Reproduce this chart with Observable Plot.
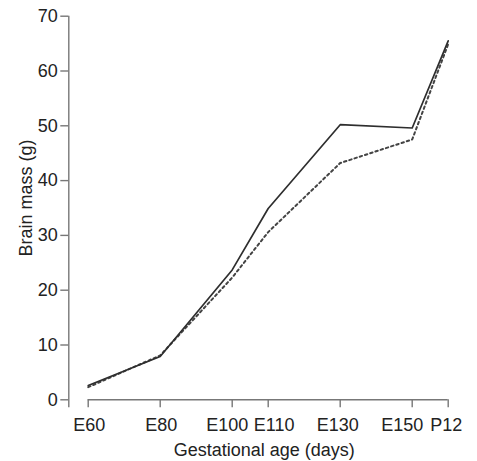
<!DOCTYPE html>
<html>
<head>
<meta charset="utf-8">
<script src="https://cdn.jsdelivr.net/npm/d3@7"></script>
<script src="https://cdn.jsdelivr.net/npm/@observablehq/plot@0.6"></script>
<style>
  html, body { margin: 0; padding: 0; background: #fff; }
</style>
</head>
<body>
<div id="chart"></div>
<script>
// Gestational age (days) of each sample, and its tick label
const days = [60, 80, 100, 110, 130, 150, 160];
const dayLabels = ["E60", "E80", "E100", "E110", "E130", "E150", "P12"];
// Brain mass (g), two series
const solidMass = [2.6, 7.9, 23.7, 34.9, 50.2, 49.6, 65.5];
const dashedMass = [2.3, 8.1, 22.3, 30.6, 43.2, 47.5, 64.9];
const yTicks = [0, 10, 20, 30, 40, 50, 60, 70];
const xTitle = "Gestational age (days)";
const yTitle = "Brain mass (g)";

const rows = days.map((d, i) => ({day: d, solid: solidMass[i], dashed: dashedMass[i]}));
const labelOf = new Map(days.map((d, i) => [d, dayLabels[i]]));
const fmt = (d) => labelOf.get(d);

const axisColor = "#777";
const textColor = "#222";
const font = "'Liberation Sans', Arial, Helvetica, sans-serif";
const fs = 18;

const xTextCommon = {tickSize: 0, tickPadding: 18, tickFormat: fmt, label: null, fontSize: fs, fill: textColor, stroke: "none"};

const chart = Plot.plot({
  width: 477,
  height: 461,
  marginLeft: 87.7,
  marginRight: 29.3,
  marginTop: 15.7,
  marginBottom: 61.7,
  x: {domain: [60, 160], label: null},
  y: {domain: [0, 70], label: null},
  style: {fontFamily: font, fontSize: "18px", color: textColor, background: "#fff", overflow: "visible"},
  marks: [
    // axis lines
    Plot.ruleY([0], {x1: 60, x2: 160, stroke: axisColor, strokeWidth: 1.4}),
    Plot.ruleX([60], {y1: -1.45, y2: 70, dx: -19.4, stroke: axisColor, strokeWidth: 1.4}),
    // y axis
    Plot.axisY({ticks: yTicks, tickSize: 8, tickPadding: 3, dx: -19.4, label: null, fontSize: fs,
                stroke: axisColor, strokeWidth: 1.4, fill: textColor}),
    // x ticks
    Plot.axisX({ticks: days, tickSize: 8, fill: "none", label: null, stroke: axisColor, strokeWidth: 1.4}),
    // x tick labels (nudged where crowded, as in the reference)
    Plot.axisX({ticks: [60, 80], ...xTextCommon, dx: 1}),
    Plot.axisX({ticks: [100], ...xTextCommon, dx: -5}),
    Plot.axisX({ticks: [110], ...xTextCommon, dx: 6}),
    Plot.axisX({ticks: [130], ...xTextCommon, dx: -2.5}),
    Plot.axisX({ticks: [150], ...xTextCommon, dx: -10}),
    Plot.axisX({ticks: [160], ...xTextCommon, dx: -2}),
    // titles
    Plot.text([xTitle], {frameAnchor: "bottom", textAnchor: "middle", lineAnchor: "bottom", dx: -4, dy: 55.7, fontSize: fs, fill: textColor}),
    Plot.text([yTitle], {frameAnchor: "left", textAnchor: "middle", lineAnchor: "bottom", rotate: -90, dx: -56, dy: -10, fontSize: fs, fill: textColor}),
    // data lines
    Plot.line(rows, {x: "day", y: "dashed", stroke: "#444", strokeWidth: 2, strokeDasharray: "2.5,3"}),
    Plot.line(rows, {x: "day", y: "solid", stroke: "#2e2e2e", strokeWidth: 1.7})
  ]
});
document.getElementById("chart").appendChild(chart);
</script>
</body>
</html>
